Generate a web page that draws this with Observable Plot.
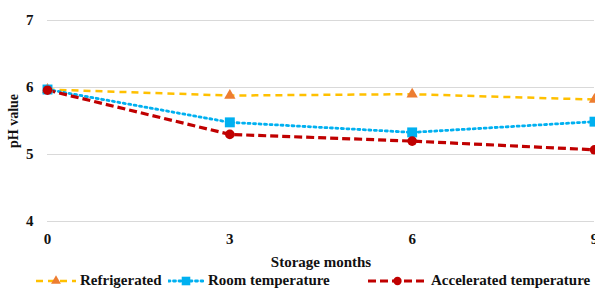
<!DOCTYPE html>
<html><head><meta charset="utf-8">
<script src="https://cdn.jsdelivr.net/npm/d3@7"></script>
<script src="https://cdn.jsdelivr.net/npm/@observablehq/plot@0.6"></script>
<style>
body{margin:0;background:#fff;width:595px;height:288px;overflow:hidden;position:relative;font-family:'Liberation Serif',serif;}
#legend{position:absolute;left:0;top:273px;width:595px;height:15px;font-weight:bold;font-size:15px;color:#111;font-family:'Liberation Serif',serif;}
#legend .it{position:absolute;top:0;display:flex;align-items:center;height:15px;white-space:nowrap;}
#legend svg{margin-right:4px;}
</style></head><body>
<div id="chart"></div>
<div id="legend"></div>
<script>
const months = [0, 3, 6, 9];
const seriesNames = ["Refrigerated", "Room temperature", "Accelerated temperature"];
const refrigerated = [5.97, 5.88, 5.90, 5.82];
const roomTemperature = [5.97, 5.48, 5.33, 5.49];
const acceleratedTemperature = [5.96, 5.30, 5.20, 5.07];
const yTicks = [4, 5, 6, 7];
const xTicks = [0, 3, 6, 9];

const SERIF = "'Liberation Serif', serif";
const styles = {
  "Refrigerated": {line:"#FFC000", marker:"#ED7D31", dash:"7,5", w:2.5, symbol:"triangle", r:4.2},
  "Room temperature": {line:"#00B0F0", marker:"#00B0F0", dash:"2,3.5", w:2.8, symbol:"square", r:5.6},
  "Accelerated temperature": {line:"#C00000", marker:"#C00000", dash:"8,4", w:3.2, symbol:"circle", r:4.8}
};
const valuesBy = [refrigerated, roomTemperature, acceleratedTemperature];
const data = seriesNames.flatMap((s, i) => months.map((m, j) => ({series: s, month: m, ph: valuesBy[i][j]})));

const marks = [
  Plot.gridY(yTicks, {stroke:"#d9d9d9", strokeOpacity:1, strokeWidth:1.2}),
  Plot.axisY(yTicks, {tickSize:0, tickPadding:14, fontSize:15, fontWeight:"bold", tickFormat:d3.format("d"), label:"pH value", labelAnchor:"center", labelArrow:"none", labelOffset:39}),
  Plot.axisX(xTicks, {tickSize:0, tickPadding:12, fontSize:15, fontWeight:"bold", tickFormat:d3.format("d"), label:"Storage months", labelAnchor:"center", labelArrow:"none", labelOffset:45}),
];
seriesNames.forEach(s => {
  const st = styles[s];
  const d = data.filter(e => e.series === s);
  marks.push(Plot.line(d, {x:"month", y:"ph", stroke:st.line, strokeWidth:st.w, strokeDasharray:st.dash, strokeLinecap: s==="Room temperature" ? "round" : "butt"}));
});
seriesNames.forEach(s => {
  const st = styles[s];
  const d = data.filter(e => e.series === s);
  marks.push(Plot.dot(d, {x:"month", y:"ph", fill:st.marker, stroke:"none", symbol:st.symbol, r:st.r}));
});

const chart = Plot.plot({
  width: 595, height: 272,
  marginLeft: 47, marginRight: 1, marginTop: 20, marginBottom: 51,
  style: {color:"#111", overflow:"visible", background:"transparent"},
  x: {domain:[0, 9]},
  y: {domain:[4, 7]},
  marks
});
chart.setAttribute("font-family", SERIF);
chart.style.fontFamily = SERIF;
chart.querySelectorAll("g, text").forEach(t => { if (t.getAttribute("font-family")) t.setAttribute("font-family", SERIF); });
chart.querySelectorAll("text").forEach(t => { t.style.fontFamily = SERIF; });
chart.querySelectorAll("[aria-label='y-axis label'] text, [aria-label='y-axis label']").forEach(t => {t.setAttribute("font-weight","bold"); t.setAttribute("font-size","14");});
chart.querySelectorAll("[aria-label='x-axis label'] text, [aria-label='x-axis label']").forEach(t => {t.setAttribute("font-weight","bold"); t.setAttribute("font-size","15");});
document.getElementById("chart").appendChild(chart);

// legend
const legendPos = [{sw:36, tx:80}, {sw:168, tx:208}, {sw:368, tx:431}];
const leg = document.getElementById("legend");
const symMap = {triangle: d3.symbolTriangle, square: d3.symbolSquare, circle: d3.symbolCircle};
seriesNames.forEach((s, i) => {
  const st = styles[s];
  const it = document.createElement("div");
  it.className = "it";
  it.style.left = legendPos[i].sw + "px";
  const swW = legendPos[i].tx - legendPos[i].sw - 4;
  const ns = "http://www.w3.org/2000/svg";
  const svg = document.createElementNS(ns, "svg");
  svg.setAttribute("width", swW); svg.setAttribute("height", 15);
  const ln = document.createElementNS(ns, "line");
  ln.setAttribute("x1", 0); ln.setAttribute("x2", swW); ln.setAttribute("y1", 8); ln.setAttribute("y2", 8);
  ln.setAttribute("stroke", st.line); ln.setAttribute("stroke-width", st.w); ln.setAttribute("stroke-dasharray", st.dash);
  if (s === "Room temperature") ln.setAttribute("stroke-linecap", "round");
  svg.appendChild(ln);
  const p = document.createElementNS(ns, "path");
  p.setAttribute("d", d3.symbol(symMap[st.symbol], Math.PI * st.r * st.r * 0.75)());
  p.setAttribute("transform", `translate(${swW/2},8)`);
  p.setAttribute("fill", st.marker);
  svg.appendChild(p);
  it.appendChild(svg);
  const span = document.createElement("span");
  span.style.fontFamily = SERIF;
  span.textContent = s;
  it.appendChild(span);
  leg.appendChild(it);
});
</script>
</body></html>
